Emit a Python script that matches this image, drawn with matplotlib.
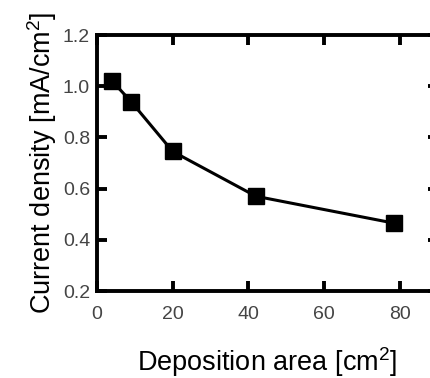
import matplotlib
matplotlib.use("Agg")
import matplotlib.pyplot as plt

# deposition area [cm2] vs current density [mA/cm2]
area = [4, 9, 20, 42, 78.5]
density = [1.02, 0.94, 0.745, 0.57, 0.465]
xticks = [0, 20, 40, 60, 80]
yticks = [0.2, 0.4, 0.6, 0.8, 1.0, 1.2]

plt.rcParams['font.family'] = ['Liberation Sans', 'DejaVu Sans']
plt.rcParams['mathtext.fontset'] = 'custom'
plt.rcParams['mathtext.rm'] = 'Liberation Sans'

fig = plt.figure(figsize=(4.3, 3.78), dpi=100)
ax = fig.add_axes([97 / 430, 87 / 378, 340.6 / 430, 256 / 378])

ax.plot(area, density, color='black', lw=2.2, marker='s', ms=11, mfc='black', mec='black')

ax.set_xlim(0, 90)
ax.set_ylim(0.2, 1.2)
ax.set_xticks(xticks)
ax.set_yticks(yticks)
ax.set_xticklabels([str(v) for v in xticks])
ax.set_yticklabels([f"{v:.1f}" for v in yticks])

for s in ax.spines.values():
    s.set_linewidth(2.8)
ax.tick_params(direction='in', length=7, width=2.8, top=True, right=True,
               labelsize=14, labelcolor='#444444')
ax.tick_params(axis='x', pad=11)
ax.tick_params(axis='y', pad=5)

ax.set_xlabel(r'Deposition area [cm$^2$]', fontsize=19.5, labelpad=16)
ax.set_ylabel(r'Current density [mA/cm$^2$]', fontsize=19.5, labelpad=3)

fig.savefig('out.png', dpi=100)
